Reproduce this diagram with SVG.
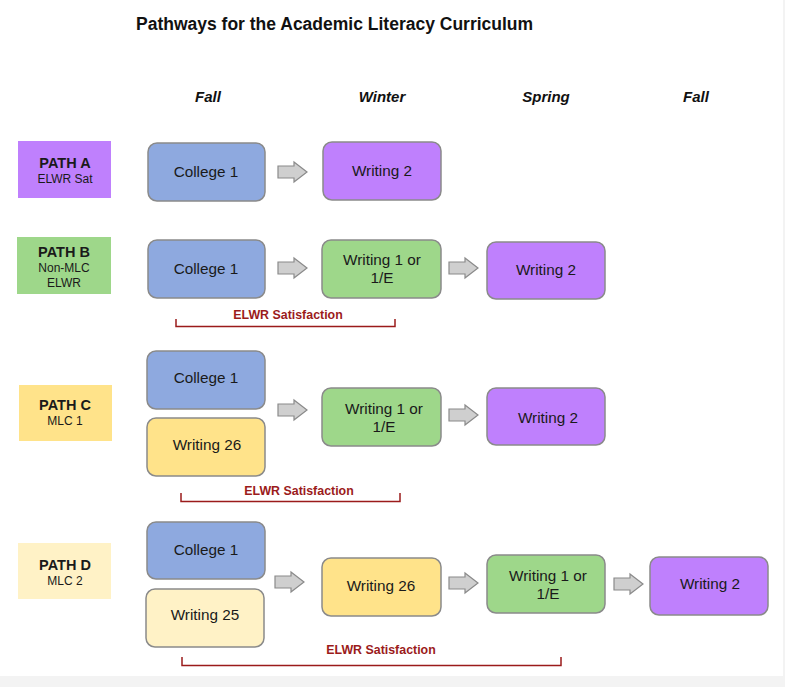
<svg xmlns="http://www.w3.org/2000/svg" width="785" height="687" viewBox="0 0 785 687">
<defs>
<style>
.bg{fill:#f3f3f3}
.node{stroke:#8a8a8a;stroke-width:1.5}
.blue{fill:#8ea9df}
.purple{fill:#bf80fd}
.green{fill:#9ed78a}
.yellow{fill:#ffe38a}
.pale{fill:#fff2c6}
.t{font-family:"Liberation Sans",Arial,sans-serif;font-size:15.3px;fill:#1a1a1a;text-anchor:middle}
.lbl{font-family:"Liberation Sans",Arial,sans-serif;font-size:14.5px;font-weight:bold;fill:#1a1a1a;text-anchor:middle}
.sub{font-family:"Liberation Sans",Arial,sans-serif;font-size:12px;fill:#1a1a1a;text-anchor:middle}
.hdr{font-family:"Liberation Sans",Arial,sans-serif;font-size:15px;font-weight:bold;font-style:italic;fill:#111;text-anchor:middle}
.title{font-family:"Liberation Sans",Arial,sans-serif;font-size:17.5px;font-weight:bold;fill:#111}
.elwr{font-family:"Liberation Sans",Arial,sans-serif;font-size:12.4px;font-weight:bold;fill:#9b1b1b;text-anchor:middle}
.br{fill:none;stroke:#9b1b1b;stroke-width:1.5}
.arr{fill:#cfcfcf;stroke:#8a8a8a;stroke-width:1.2}
</style>
<path id="arrow" d="M0,-6 H16 V-10 L29,0 L16,10 V6 H0 Z"/>
</defs>
<rect x="0" y="0" width="785" height="687" fill="#ffffff"/>
<rect class="bg" x="0" y="676" width="785" height="11"/>
<rect class="bg" x="783" y="0" width="2" height="687"/>

<text class="title" x="136" y="30">Pathways for the Academic Literacy Curriculum</text>
<g id="headers">
<text class="hdr" x="208" y="102">Fall</text>
<text class="hdr" x="382" y="102">Winter</text>
<text class="hdr" x="546" y="102">Spring</text>
<text class="hdr" x="696" y="102">Fall</text>
</g>

<!-- Path A -->
<g id="pathA">
<rect x="18" y="141" width="93" height="57" fill="#bf80fd"/>
<text class="lbl" x="65" y="168">PATH A</text>
<text class="sub" x="65" y="183">ELWR Sat</text>
</g>
<g id="a-college1"><rect class="node blue" x="148" y="143" width="117" height="58" rx="9"/><text class="t" x="206" y="177">College 1</text></g>
<g id="a-writing2"><rect class="node purple" x="323" y="142" width="118" height="58" rx="9"/><text class="t" x="382" y="176">Writing 2</text></g>

<!-- Path B -->
<g id="pathB">
<rect x="17" y="237" width="94" height="57" fill="#9ed78a"/>
<text class="lbl" x="64" y="257">PATH B</text>
<text class="sub" x="64" y="272">Non-MLC</text>
<text class="sub" x="64" y="287">ELWR</text>
</g>
<g id="b-college1"><rect class="node blue" x="148" y="240" width="117" height="58" rx="9"/><text class="t" x="206" y="274">College 1</text></g>
<g id="b-writing1"><rect class="node green" x="322" y="240" width="119" height="58" rx="9"/><text class="t" x="382" y="265">Writing 1 or</text><text class="t" x="382" y="283">1/E</text></g>
<g id="b-writing2"><rect class="node purple" x="487" y="242" width="118" height="57" rx="9"/><text class="t" x="546" y="275">Writing 2</text></g>

<!-- Path C -->
<g id="pathC">
<rect x="19" y="385" width="93" height="56" fill="#ffe38a"/>
<text class="lbl" x="65" y="410">PATH C</text>
<text class="sub" x="65" y="425">MLC 1</text>
</g>
<g id="c-college1"><rect class="node blue" x="147" y="351" width="118" height="58" rx="9"/><text class="t" x="206" y="383">College 1</text></g>
<g id="c-writing26"><rect class="node yellow" x="147" y="418" width="118" height="58" rx="9"/><text class="t" x="207" y="450">Writing 26</text></g>
<g id="c-writing1"><rect class="node green" x="322" y="388" width="119" height="58" rx="9"/><text class="t" x="384" y="414">Writing 1 or</text><text class="t" x="384" y="432">1/E</text></g>
<g id="c-writing2"><rect class="node purple" x="487" y="388" width="118" height="57" rx="9"/><text class="t" x="548" y="423">Writing 2</text></g>

<!-- Path D -->
<g id="pathD">
<rect x="18" y="543" width="93" height="56" fill="#fff2c6"/>
<text class="lbl" x="65" y="570">PATH D</text>
<text class="sub" x="65" y="585">MLC 2</text>
</g>
<g id="d-college1"><rect class="node blue" x="147" y="522" width="118" height="57" rx="9"/><text class="t" x="206" y="555">College 1</text></g>
<g id="d-writing25"><rect class="node pale" x="146" y="589" width="118" height="58" rx="9"/><text class="t" x="205" y="620">Writing 25</text></g>
<g id="d-writing26"><rect class="node yellow" x="322" y="558" width="119" height="58" rx="9"/><text class="t" x="381" y="591">Writing 26</text></g>
<g id="d-writing1"><rect class="node green" x="487" y="555" width="118" height="58" rx="9"/><text class="t" x="548" y="581">Writing 1 or</text><text class="t" x="548" y="599">1/E</text></g>
<g id="d-writing2"><rect class="node purple" x="650" y="557" width="118" height="58" rx="9"/><text class="t" x="710" y="589">Writing 2</text></g>

<g id="connectors">
<use href="#arrow" class="arr" transform="translate(278,172)"/>
<use href="#arrow" class="arr" transform="translate(278,268)"/>
<use href="#arrow" class="arr" transform="translate(449,268)"/>
<use href="#arrow" class="arr" transform="translate(278,410)"/>
<use href="#arrow" class="arr" transform="translate(449,415)"/>
<use href="#arrow" class="arr" transform="translate(275,582)"/>
<use href="#arrow" class="arr" transform="translate(449,583)"/>
<use href="#arrow" class="arr" transform="translate(614,584)"/>
</g>

<g id="brackets">
<path class="br" d="M176,319 V326.5 H395 V319"/>
<text class="elwr" x="288" y="319">ELWR Satisfaction</text>
<path class="br" d="M181,493 V501.5 H400 V493"/>
<text class="elwr" x="299" y="495">ELWR Satisfaction</text>
<path class="br" d="M182,657 V665.5 H561 V657"/>
<text class="elwr" x="381" y="654">ELWR Satisfaction</text>
</g>
</svg>
